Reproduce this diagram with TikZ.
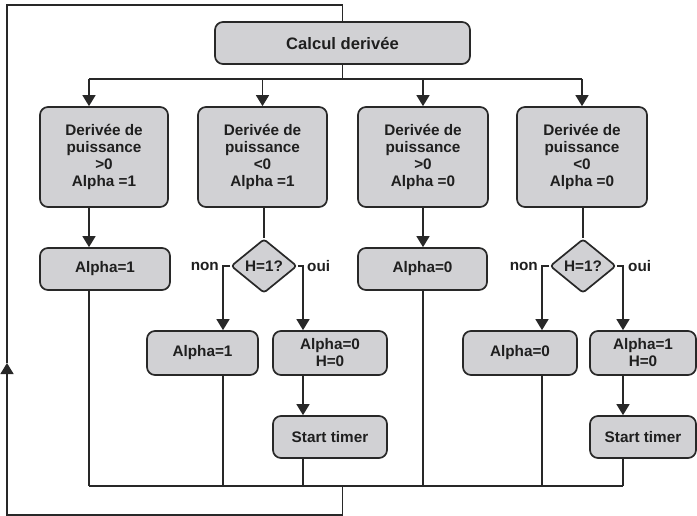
\documentclass[tikz,border=0pt]{standalone}
\usepackage{fontspec}
\setmainfont{Liberation Sans}
\usetikzlibrary{arrows.meta,shapes.geometric}
\definecolor{boxgray}{RGB}{209,209,212}
\definecolor{linec}{RGB}{40,40,40}
\begin{document}
\begin{tikzpicture}[x=1pt,y=-1pt,
  txt/.style={font=\fontsize{15.3}{17}\selectfont\bfseries, text=black!88},
  box/.style={draw=linec, line width=1.7pt, fill=boxgray, rounded corners=8pt,
    inner sep=0pt, align=center, txt},
  dec/.style={diamond, draw=linec, line width=1.7pt, fill=boxgray, rounded corners=3pt,
    inner sep=0pt, aspect=1.2, minimum width=66pt, minimum height=54pt, txt},
  lbl/.style={txt, inner sep=0pt},
  conn/.style={draw=linec, line width=1.4pt},
  arr/.style={conn, -{Triangle[width=13pt,length=11pt]}}
]
\useasboundingbox[fill=white] (0,0) rectangle (697,516);

% nodes
\node[box, minimum width=255pt, minimum height=42pt, font=\fontsize{16.6}{18}\selectfont\bfseries] (top) at (342.5,43) {Calcul derivée};

\node[box, minimum width=128pt, minimum height=100pt] (b1) at (104,157) {Derivée de\\puissance\\>0\\Alpha =1};
\node[box, minimum width=129pt, minimum height=100pt] (b2) at (262.5,157) {Derivée de\\puissance\\<0\\Alpha =1};
\node[box, minimum width=130pt, minimum height=100pt] (b3) at (423,157) {Derivée de\\puissance\\>0\\Alpha =0};
\node[box, minimum width=130pt, minimum height=100pt] (b4) at (582,157) {Derivée de\\puissance\\<0\\Alpha =0};

\node[box, minimum width=130pt, minimum height=42pt] (a1) at (105,269) {Alpha=1};
\node[dec] (d2) at (264,266) {H=1?};
\node[box, minimum width=129pt, minimum height=42pt] (a3) at (422.5,269) {Alpha=0};
\node[dec] (d4) at (583,266) {H=1?};

\node[box, minimum width=111pt, minimum height=44pt] (c2n) at (202.5,353) {Alpha=1};
\node[box, minimum width=114pt, minimum height=44pt] (c2o) at (330,353) {Alpha=0\\H=0};
\node[box, minimum width=114pt, minimum height=44pt] (c4n) at (520,353) {Alpha=0};
\node[box, minimum width=106pt, minimum height=44pt] (c4o) at (643,353) {Alpha=1\\H=0};

\node[box, minimum width=114pt, minimum height=42pt] (t2) at (330,437) {Start timer};
\node[box, minimum width=106pt, minimum height=42pt] (t4) at (643,437) {Start timer};

\node[lbl, anchor=east] (non2) at (219,266) {non};
\node[lbl, anchor=west] (oui2) at (307,266) {oui};
\node[lbl, anchor=east] (non4) at (538,266) {non};
\node[lbl, anchor=west] (oui4) at (628,266) {oui};

% coordinates
\coordinate (split) at (342.5,79);
\coordinate (s1) at (89,79);
\coordinate (s4) at (582,79);
\coordinate (join) at (342.5,486);
\coordinate (j1) at (89,486);
\coordinate (j6) at (623,486);
\coordinate (lb) at (7,515);
\coordinate (lt) at (7,5);
\coordinate (la) at (7,363);
\coordinate (tt) at (342.5,5);
\coordinate (k2n) at (223,266);
\coordinate (k2o) at (303,266);
\coordinate (k4n) at (542,266);
\coordinate (k4o) at (623,266);

% top split
\path[conn] (top.south) -- (split);
\path[conn] (s1) -- (s4);
\path[arr] (s1) -- (s1 |- b1.north);
\path[arr] (b2.north |- split) -- (b2.north);
\path[arr] (b3.north |- split) -- (b3.north);
\path[arr] (s4) -- (b4.north);

% column 1
\path[arr] (s1 |- b1.south) -- (s1 |- a1.north);
\path[conn] (s1 |- a1.south) -- (j1);

% column 2
\path[conn] (b2.south -| d2.north) -- (d2.north);
\path[arr] (d2.west) -- (k2n) -- (k2n |- c2n.north);
\path[arr] (d2.east) -- (k2o) -- (k2o |- c2o.north);
\path[arr] (k2o |- c2o.south) -- (k2o |- t2.north);
\path[conn] (k2n |- c2n.south) -- (k2n |- j1);
\path[conn] (k2o |- t2.south) -- (k2o |- j1);

% column 3
\path[arr] (b3.south) -- (a3.north -| b3.south);
\path[conn] (a3.south -| b3.south) -- (b3.south |- j1);

% column 4
\path[conn] (b4.south -| d4.north) -- (d4.north);
\path[arr] (d4.west) -- (k4n) -- (k4n |- c4n.north);
\path[arr] (d4.east) -- (k4o) -- (k4o |- c4o.north);
\path[arr] (k4o |- c4o.south) -- (k4o |- t4.north);
\path[conn] (k4n |- c4n.south) -- (k4n |- j1);
\path[conn] (k4o |- t4.south) -- (j6);

% join and loop
\path[conn] (j1) -- (j6);
\path[arr] (join) -- (join |- lb) -- (lb) -- (la);
\path[conn] (la) -- (lt) -- (tt) -- (top.north);
\end{tikzpicture}
\end{document}
